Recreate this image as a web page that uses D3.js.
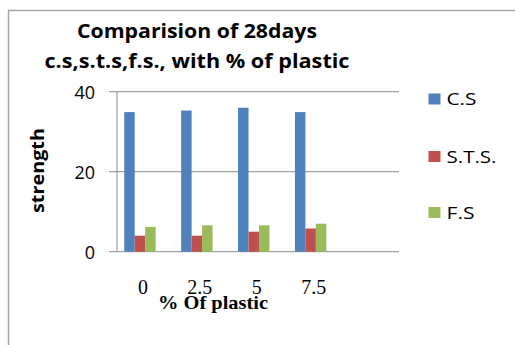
<!DOCTYPE html>
<html>
<head>
<meta charset="utf-8">
<script src="https://cdn.jsdelivr.net/npm/d3@7"></script>
<style>
  html, body { margin: 0; padding: 0; background: #fff; }
  svg { display: block; }
</style>
</head>
<body>
<svg id="chart" width="515" height="345"></svg>
<script>
// Plastic content (%) on the category axis; a trailing empty slot leaves room on the right
const categories = ["0", "2.5", "5", "7.5", ""];
const seriesNames = ["C.S", "S.T.S.", "F.S"];
const seriesColors = ["#4F81BD", "#C0504D", "#9BBB59"];
// 28-day strengths
const csValues = [34.9, 35.3, 36.0, 34.9];
const stsValues = [4.0, 4.0, 5.0, 5.8];
const fsValues = [6.2, 6.6, 6.6, 7.0];
const yTicks = [0, 20, 40];

const series = [csValues, stsValues, fsValues];
const svg = d3.select("#chart");
const sans = "'Open Sans', Lato, sans-serif";
const serif = "'Liberation Serif', 'DejaVu Serif', serif";

// outer chart frame
svg.append("path")
  .attr("d", "M8.5,345 V10.5 H515")
  .attr("fill", "none")
  .attr("stroke", "#a6a6a6")
  .attr("stroke-width", 1.5);

// title, two lines
const title = svg.append("text")
  .attr("text-anchor", "middle")
  .attr("font-family", sans)
  .attr("font-weight", "bold")
  .attr("font-size", 19)
  .attr("fill", "#000");
title.append("tspan").attr("x", 197).attr("y", 38)
  .attr("textLength", 240).attr("lengthAdjust", "spacingAndGlyphs")
  .text("Comparision of 28days");
title.append("tspan").attr("x", 197).attr("y", 68)
  .attr("textLength", 305).attr("lengthAdjust", "spacingAndGlyphs")
  .text("c.s,s.t.s,f.s., with % of plastic");

const y = d3.scaleLinear().domain([0, 40]).range([251.7, 91.7]);
const x0 = d3.scaleBand().domain(categories).range([111.5, 396]).paddingInner(0).paddingOuter(0);
const groupWidth = 31.4;
const x1 = d3.scaleBand().domain(d3.range(seriesNames.length)).range([0, groupWidth]);

const plotLeft = 117, plotRight = 399, tickLeft = 109;

// horizontal gridlines (the 0 line doubles as the category axis)
svg.append("g")
  .selectAll("line")
  .data(yTicks)
  .join("line")
  .attr("x1", tickLeft).attr("x2", plotRight)
  .attr("y1", d => y(d)).attr("y2", d => y(d))
  .attr("stroke", "#8c8c8c")
  .attr("stroke-width", 1);

// value axis line
svg.append("line")
  .attr("x1", plotLeft).attr("x2", plotLeft)
  .attr("y1", y(40)).attr("y2", y(0))
  .attr("stroke", "#8c8c8c")
  .attr("stroke-width", 1);

// value axis labels
const yAxis = d3.axisLeft(y).tickValues(yTicks).tickSize(0).tickPadding(0);
const yg = svg.append("g").attr("transform", `translate(95,0)`).call(yAxis);
yg.select(".domain").remove();
yg.selectAll("text")
  .attr("font-family", sans)
  .attr("font-size", 18)
  .attr("fill", "#000")
  .attr("dy", "0.36em");

// bars
const groups = svg.append("g")
  .selectAll("g")
  .data(categories.slice(0, csValues.length))
  .join("g")
  .attr("transform", c => `translate(${x0(c) + x0.bandwidth() / 2 - groupWidth / 2},0)`);

groups.selectAll("rect")
  .data((c, i) => series.map((vals, s) => ({ s, v: vals[i] })))
  .join("rect")
  .attr("x", d => x1(d.s))
  .attr("width", x1.bandwidth())
  .attr("y", d => y(d.v))
  .attr("height", d => y(0) - y(d.v))
  .attr("fill", d => seriesColors[d.s]);

// category labels
const xAxis = d3.axisBottom(x0).tickSize(0).tickPadding(0);
const xg = svg.append("g").attr("transform", `translate(3,294)`).call(xAxis);
xg.select(".domain").remove();
xg.selectAll("text")
  .attr("font-family", serif)
  .attr("font-size", 20)
  .attr("fill", "#000")
  .attr("dy", 0);

// axis titles
svg.append("text")
  .attr("x", 213).attr("y", 309)
  .attr("text-anchor", "middle")
  .attr("font-family", serif)
  .attr("font-weight", "bold")
  .attr("font-size", 19)
  .attr("textLength", 110).attr("lengthAdjust", "spacingAndGlyphs")
  .attr("fill", "#000")
  .text("% Of plastic");

svg.append("text")
  .attr("transform", "translate(44,170.5) rotate(-90)")
  .attr("text-anchor", "middle")
  .attr("font-family", sans)
  .attr("font-weight", "bold")
  .attr("font-size", 17)
  .attr("textLength", 85).attr("lengthAdjust", "spacingAndGlyphs")
  .attr("fill", "#000")
  .text("strength");

// legend
const legendRows = [99, 156.5, 212.5];
const legendWidths = [30, 50, 28];
const legend = svg.append("g")
  .selectAll("g")
  .data(seriesNames)
  .join("g")
  .attr("transform", (d, i) => `translate(428.5,${legendRows[i]})`);
legend.append("rect")
  .attr("x", 0).attr("y", -5.5)
  .attr("width", 12).attr("height", 11)
  .attr("fill", (d, i) => seriesColors[i]);
legend.append("text")
  .attr("x", 18).attr("y", 0)
  .attr("dy", "0.36em")
  .attr("font-family", sans)
  .attr("font-size", 17)
  .attr("textLength", (d, i) => legendWidths[i]).attr("lengthAdjust", "spacingAndGlyphs")
  .attr("fill", "#000")
  .text(d => d);
</script>
</body>
</html>
